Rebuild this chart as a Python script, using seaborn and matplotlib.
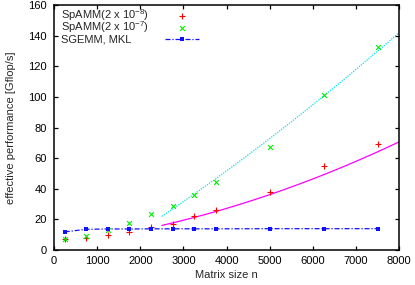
import numpy as np
import pandas as pd
import matplotlib
matplotlib.use("Agg")
import matplotlib.pyplot as plt
import seaborn as sns

# matrix sizes and measured performance (Gflop/s)
sizes = [250, 750, 1250, 1750, 2250, 2750, 3250, 3750, 5000, 6250, 7500]
spamm_1e8 = [7.0, 7.9, 10.0, 11.6, 15.0, 17.2, 22.0, 26.0, 37.7, 55.0, 69.3]
spamm_1e7 = [7.0, 9.2, 13.2, 17.9, 23.8, 28.8, 36.2, 44.5, 67.0, 101.0, 132.8]
sgemm_mkl = [11.8, 13.5, 13.7, 13.7, 13.8, 13.8, 13.8, 13.8, 13.9, 13.9, 13.9]

# fitted curves at a few sizes
fit_n = [2500, 3400, 5000, 6250, 8000]
fit_1e8 = [16.0, 22.5, 35.8, 49.5, 70.6]
fit_1e7 = [22.0, 39.5, 72.5, 101.0, 142.0]

labels = ["SpAMM(2 x 10$^{-8}$)", "SpAMM(2 x 10$^{-7}$)", "SGEMM, MKL"]

sns.set_style("ticks")
plt.rcParams["font.family"] = ["Liberation Sans", "DejaVu Sans"]
plt.rcParams["mathtext.fontset"] = "custom"
plt.rcParams["mathtext.rm"] = "Liberation Sans"
plt.rcParams["font.size"] = 8

df = pd.DataFrame({"n": sizes, "p8": spamm_1e8, "p7": spamm_1e7, "mkl": sgemm_mkl})

# smooth quadratic through the read-off fit values
nn = np.linspace(fit_n[0], fit_n[-1], 200)
curve8 = np.polyval(np.polyfit(fit_n, fit_1e8, 2), nn)
curve7 = np.polyval(np.polyfit(fit_n, fit_1e7, 2), nn)

fig, ax = plt.subplots(figsize=(4.15, 2.85), dpi=100)
fig.subplots_adjust(left=0.13, right=0.962, top=0.982, bottom=0.123)

sns.scatterplot(data=df, x="n", y="p8", ax=ax, marker="+", color="#ff0000", s=20,
                linewidth=0.8, label=labels[0], zorder=3)
sns.scatterplot(data=df, x="n", y="p7", ax=ax, marker="x", color="#00ee00", s=12,
                linewidth=0.8, label=labels[1], zorder=3)
sns.lineplot(data=df, x="n", y="mkl", ax=ax, color="#1010ff", linestyle=(0, (4, 1.5, 1, 1.5)),
             linewidth=0.9, marker="s", markersize=3.2, markeredgewidth=0,
             label=labels[2], zorder=4)
sns.lineplot(x=nn, y=curve8, ax=ax, color="#ff00ff", linewidth=0.9, legend=False, zorder=2)
sns.lineplot(x=nn, y=curve7, ax=ax, color="#00e5ee", linewidth=0.9, linestyle=(0, (1, 1)),
             legend=False, zorder=2)

ax.set_xlim(0, 8000)
ax.set_ylim(0, 160)
ax.set_xticks(range(0, 8001, 1000))
ax.set_yticks(range(0, 161, 20))
ax.set_xlabel("Matrix size n", labelpad=3)
ax.set_ylabel("effective performance [Gflop/s]", labelpad=9)
ax.tick_params(direction="in", top=True, right=True, length=3, width=0.9,
               labelsize=8, colors="black")
ax.tick_params(axis="x", pad=4)
ax.tick_params(axis="y", pad=5)
for sp in ax.spines.values():
    sp.set_linewidth(1.1)
    sp.set_color("black")

# gnuplot-style key: labels left-aligned, samples in a column to the right
handles, _ = ax.get_legend_handles_labels()
ax.legend(handles, [""] * len(handles), loc="center", bbox_to_anchor=(0.371, 0.908),
          frameon=False, handlelength=3.0, handletextpad=0, labelspacing=0.2,
          borderpad=0, fontsize=8)
for i, lab in enumerate(labels):
    ax.text(0.02, 0.958 - i * 0.049, lab, transform=ax.transAxes, va="center", ha="left")

fig.savefig("out.png", dpi=100)
